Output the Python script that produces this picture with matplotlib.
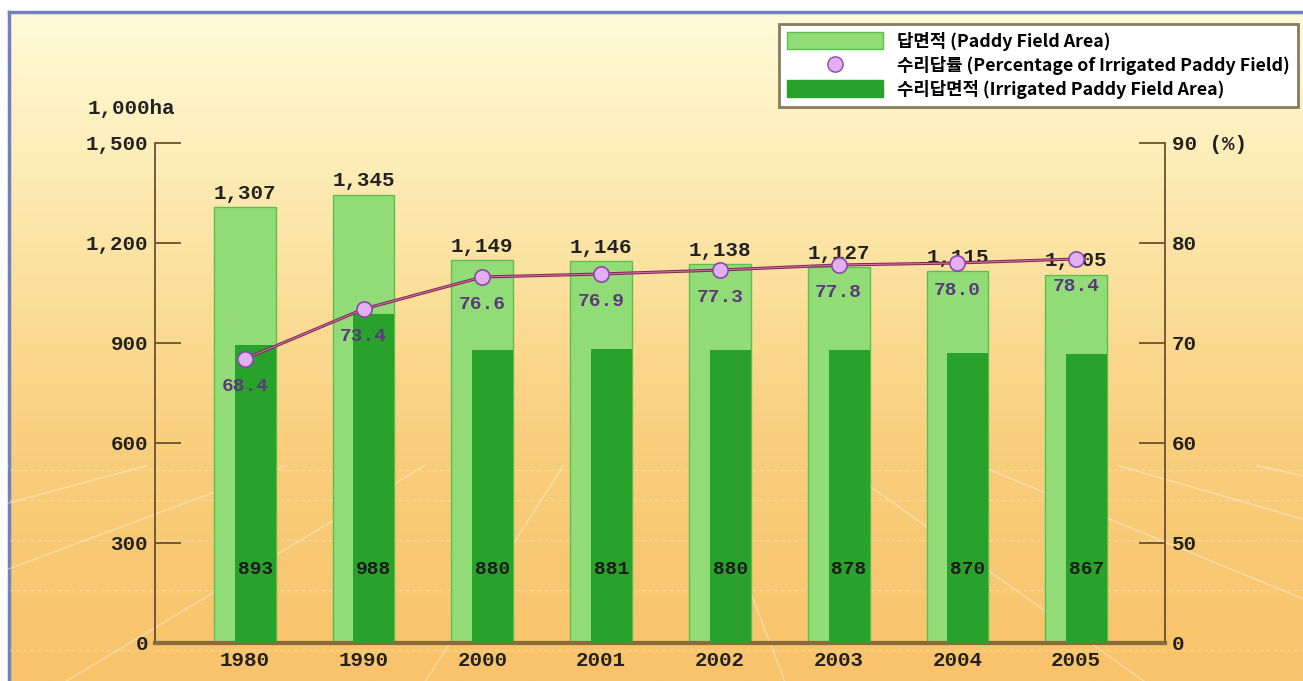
import numpy as np
import matplotlib
matplotlib.use('Agg')
import matplotlib.pyplot as plt
import matplotlib.transforms as mtransforms
from matplotlib.lines import Line2D
from matplotlib.patches import Patch

years = ['1980', '1990', '2000', '2001', '2002', '2003', '2004', '2005']
paddy_area = [1307, 1345, 1149, 1146, 1138, 1127, 1115, 1105]
irrigated_area = [893, 988, 880, 881, 880, 878, 870, 867]
irrigated_pct = [68.4, 73.4, 76.6, 76.9, 77.3, 77.8, 78.0, 78.4]

left_ticks = [0, 300, 600, 900, 1200, 1500]
left_labels = ['0', '300', '600', '900', '1,200', '1,500']
right_ticks = [0, 50, 60, 70, 80, 90]
right_labels = ['0', '50', '60', '70', '80', '90 (%)']

# right axis is broken: 0-50 % squeezed into the first 300
pct_break = [0, 50, 90]
ha_break = [0, 300, 1500]


def pct_to_ha(p):
    return np.interp(p, pct_break, ha_break)


def ha_to_pct(h):
    return np.interp(h, ha_break, pct_break)


LIGHT = '#92dc78'
DARK = '#28a22a'
BROWN = '#6b5030'
NUM = {'family': 'Liberation Mono', 'weight': 'bold'}
KR_FONT = ['Noto Sans CJK KR', 'DejaVu Sans']

W, H = 1303, 681
fig = plt.figure(figsize=(W / 100, H / 100), dpi=100, facecolor='white')

# background: yellow-orange gradient with a perspective floor grid
bg = fig.add_axes([0, 0, 1, 1], zorder=-10)
bg.set_xlim(0, W)
bg.set_ylim(H, 0)
bg.axis('off')
rows = np.linspace(12, H, 200)
stops_y = [12, 150, 300, 450, 681]
cols = np.array([[255, 251, 216], [253, 238, 186], [251, 222, 152],
                 [249, 206, 124], [248, 195, 106]]) / 255
grad = np.stack([np.interp(rows, stops_y, cols[:, i]) for i in range(3)], axis=-1)
bg.imshow(grad[:, None, :], extent=(9, W, H, 12), aspect='auto', interpolation='bilinear')
bg.plot([9, 9], [12, H], color='#7080c0', lw=2.5)
bg.plot([9, W], [12, 12], color='#7080c0', lw=2.5)
vx, vy = 650, 330
for bx in np.arange(-2000, 3400, 400):
    t = np.linspace(0, 1, 50)
    xs = vx + (bx - vx) * t
    ys = vy + (H + 40 - vy) * t
    keep = ys > 460
    bg.plot(xs[keep], ys[keep], color='white', lw=1, alpha=0.4)
for hy in [470, 500, 540, 590, 650]:
    bg.plot([9, W], [hy, hy], color='white', lw=1, alpha=0.25, ls=(0, (3, 2)))

ax = fig.add_axes([155 / W, 38 / H, (1165 - 155) / W, 500 / H])
ax.patch.set_alpha(0)
x = np.arange(len(years))
light_w = 0.52
dark_w = 0.345
dark_x = x + (light_w - dark_w) / 2

ax.bar(x, paddy_area, width=light_w, color=LIGHT, edgecolor='#5cbf4c', lw=1, zorder=2)
ax.bar(dark_x, irrigated_area, width=dark_w, color=DARK, zorder=3)

pct_y = pct_to_ha(irrigated_pct)
ax.plot(x, pct_y, color='#7a2454', lw=2.2, zorder=4)
ax.plot(x, pct_y, color='#d070a0', lw=0.8, zorder=4)
ax.plot(x, pct_y, ls='none', marker='o', ms=11, mfc='#e4aef2', mec='#8a48a8', mew=1.2, zorder=5)

blend = mtransforms.blended_transform_factory(ax.transData, ax.transAxes)
for i in range(len(years)):
    ax.annotate(f'{paddy_area[i]:,}', (x[i], paddy_area[i]), xytext=(0, 3), textcoords='offset points',
                ha='center', va='bottom', fontsize=15, color='#222222', **NUM)
    ax.annotate(f'{irrigated_pct[i]:.1f}', (x[i], pct_y[i]), xytext=(0, -20), textcoords='offset points',
                ha='center', va='center', fontsize=14, color='#5a3a78', **NUM)
    ax.text(dark_x[i], 0.146, f'{irrigated_area[i]}', transform=blend,
            ha='center', va='center', fontsize=14, color='#1a1a1a', zorder=6, **NUM)

ax.set_xlim(-0.756, 7.748)
ax.set_ylim(0, 1500)
ax.set_xticks(x)
ax.set_xticklabels(years, fontsize=15, color='#222222', **NUM)
ax.tick_params(axis='x', length=0, pad=6)
ax.set_yticks(left_ticks)
ax.set_yticklabels(left_labels, fontsize=15, color='#222222', **NUM)
ax.tick_params(axis='y', direction='in', length=19, width=1.3, color=BROWN, pad=5)
for s in ['top', 'right']:
    ax.spines[s].set_visible(False)
ax.spines['left'].set_color(BROWN)
ax.spines['left'].set_linewidth(1.3)
ax.spines['bottom'].set_color('#8a6a3a')
ax.spines['bottom'].set_linewidth(3)

sec = ax.secondary_yaxis('right', functions=(ha_to_pct, pct_to_ha))
sec.set_yticks(right_ticks)
sec.set_yticklabels(right_labels, fontsize=15, color='#222222', **NUM)
sec.tick_params(direction='in', length=19, width=1.3, color=BROWN, pad=5)
sec.spines['right'].set_color(BROWN)
sec.spines['right'].set_linewidth(1.3)

fig.text(88 / W, 1 - 108 / H, '1,000ha', fontsize=15, color='#222222', va='center', **NUM)

handles = [Patch(facecolor=LIGHT, edgecolor='#5cbf4c'),
           Line2D([], [], ls='none', marker='o', ms=11, mfc='#e4aef2', mec='#8a48a8'),
           Patch(facecolor=DARK, edgecolor=DARK)]
labels = ['답면적 (Paddy Field Area)',
          '수리답률 (Percentage of Irrigated Paddy Field)',
          '수리답면적 (Irrigated Paddy Field Area)']
leg = fig.legend(handles, labels, loc='upper right', bbox_to_anchor=(0.996, 0.965),
                 prop={'family': KR_FONT, 'weight': 'bold', 'size': 12.8},
                 handlelength=5.4, handleheight=1.1, labelspacing=0.28, handletextpad=0.8,
                 borderpad=0.45, borderaxespad=0, fancybox=False, framealpha=1, edgecolor='#8a7a60')
leg.get_frame().set_linewidth(2)

fig.savefig('out.png', dpi=100)
